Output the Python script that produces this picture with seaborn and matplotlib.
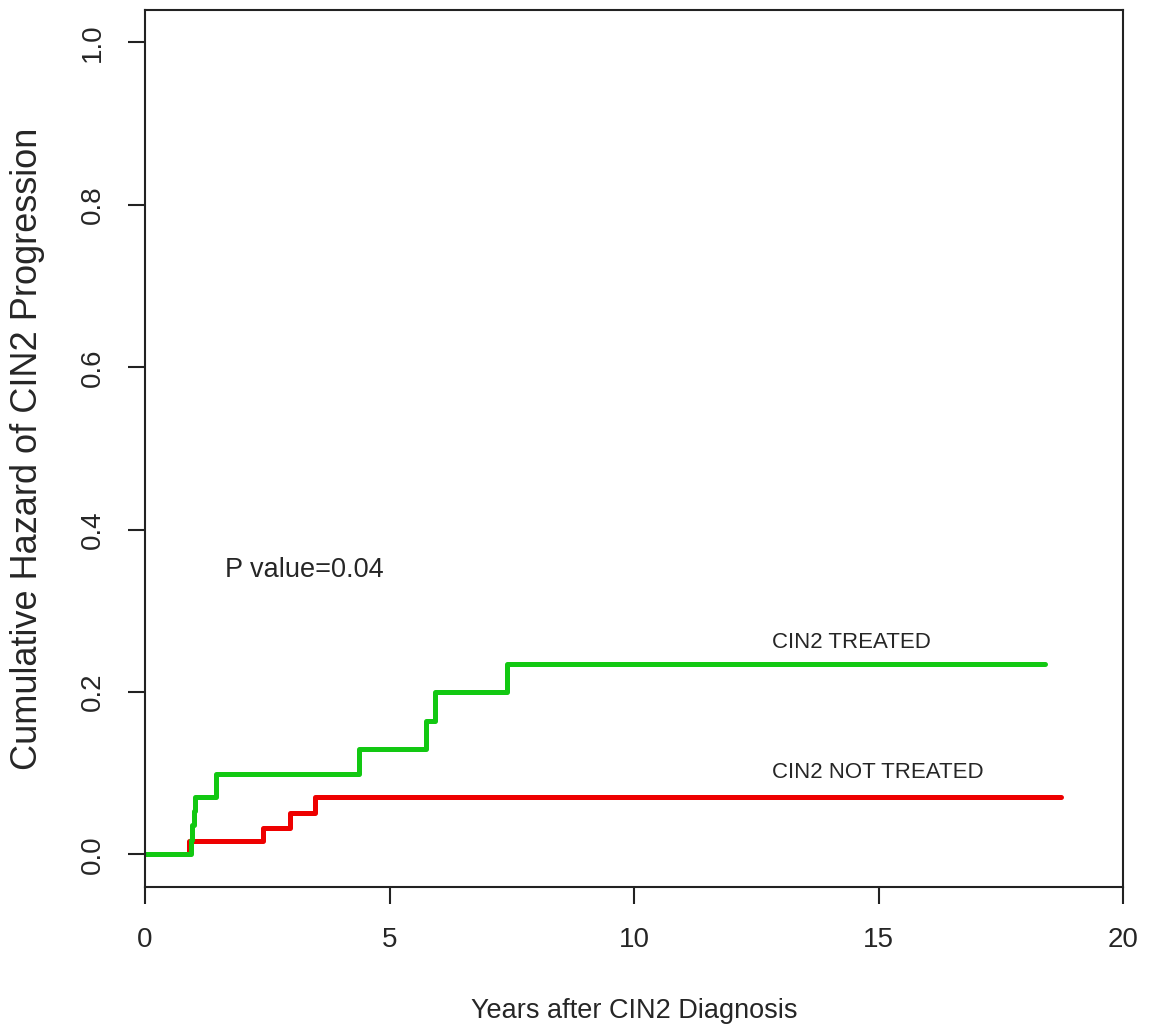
import pandas as pd
import matplotlib
matplotlib.use("Agg")
import matplotlib.pyplot as plt
import seaborn as sns

# Cumulative hazard step values
treated_years = [0, 0.95, 0.97, 1.0, 1.03, 1.46, 4.37, 5.75, 5.93, 7.40, 18.40]
treated_hazard = [0, 0.018, 0.036, 0.054, 0.071, 0.099, 0.130, 0.164, 0.200, 0.235, 0.235]

not_treated_years = [0, 0.90, 2.41, 2.97, 3.47, 18.74]
not_treated_hazard = [0, 0.016, 0.032, 0.051, 0.071, 0.071]

x_ticks = [0, 5, 10, 15, 20]
y_ticks = [0.0, 0.2, 0.4, 0.6, 0.8, 1.0]

sns.set_theme(style="ticks")
plt.rcParams["font.family"] = ["Liberation Sans", "DejaVu Sans"]

df_t = pd.DataFrame({"years": treated_years, "hazard": treated_hazard})
df_n = pd.DataFrame({"years": not_treated_years, "hazard": not_treated_hazard})

fig = plt.figure(figsize=(11.49, 10.28), dpi=100)
ax = fig.add_axes([0.1262, 0.1372, 0.9774 - 0.1262, 0.9903 - 0.1372])

# red first so green sits on top where they overlap
sns.lineplot(data=df_n, x="years", y="hazard", ax=ax, drawstyle="steps-post",
             color="#EE0000", linewidth=3.6, estimator=None, sort=False)
sns.lineplot(data=df_t, x="years", y="hazard", ax=ax, drawstyle="steps-post",
             color="#12C812", linewidth=3.6, estimator=None, sort=False)

ax.set_xlim(0, 20)
ax.set_ylim(-0.04, 1.04)
ax.set_xticks(x_ticks)
ax.set_xticklabels([str(v) for v in x_ticks], fontsize=20)
ax.set_yticks(y_ticks)
ax.set_yticklabels([f"{v:.1f}" for v in y_ticks], fontsize=20, rotation=90, va="center")
ax.tick_params(axis="both", length=12, width=1.5, color="#222222")
ax.tick_params(axis="x", pad=17)
ax.tick_params(axis="y", pad=16)

for s in ax.spines.values():
    s.set_visible(True)
    s.set_linewidth(1.5)
    s.set_color("#222222")

ax.set_xlabel("Years after CIN2 Diagnosis", fontsize=19.5, labelpad=32)
ax.set_ylabel("Cumulative Hazard of CIN2 Progression", fontsize=26, labelpad=25)

ax.text(3.25, 0.35, "P value=0.04", fontsize=19.5, ha="center", va="center")
ax.text(12.83, 0.261, "CIN2 TREATED", fontsize=16, ha="left", va="center")
ax.text(12.83, 0.101, "CIN2 NOT TREATED", fontsize=16, ha="left", va="center")

fig.savefig("out.png", dpi=100)
